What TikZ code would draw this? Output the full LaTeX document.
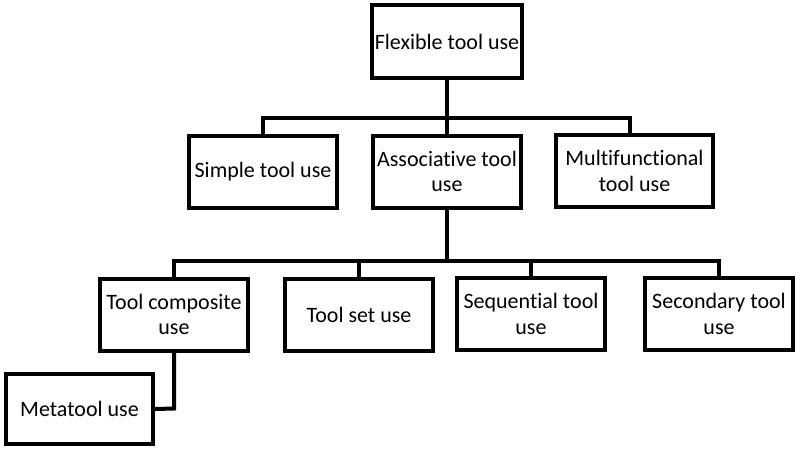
\documentclass[tikz,border=0pt]{standalone}
\usepackage{fontspec}
\setmainfont[Ligatures=NoCommon]{Carlito}
\begin{document}
\begin{tikzpicture}[x=0.75pt,y=-0.75pt,
  box/.style={draw=black,line width=3pt,fill=white,inner sep=0pt,
    minimum width=148*0.75pt,minimum height=72*0.75pt,align=center,
    font=\fontsize{16.5pt}{19pt}\selectfont},
  conn/.style={draw=black,line width=3pt}]
\useasboundingbox (0,0) rectangle (800,451);
\node[box,minimum width=150*0.75pt,minimum height=73*0.75pt] (flex) at (447,41.5) {Flexible tool use};
\node[box] (simple) at (263,171.5) {Simple tool use};
\node[box] (assoc) at (447,171.5) {Associative tool\\use};
\node[box,minimum width=157*0.75pt] (multi) at (634.5,171) {Multifunctional\\tool use};
\node[box] (comp) at (174,314.5) {Tool composite\\use};
\node[box] (set) at (359,314.5) {Tool set use};
\node[box] (seq) at (531,314) {Sequential tool\\use};
\node[box] (sec) at (719,314) {Secondary tool\\use};
\node[box,minimum width=147*0.75pt,minimum height=70*0.75pt] (meta) at (79.5,409) {Metatool use};
\coordinate (b1) at (447,118);
\coordinate (b2) at (447,261);
\coordinate (m1) at (630,118);
\coordinate (k1) at (174,408.5);
\draw[conn] (flex.south) -- (b1);
\draw[conn] (simple.north) |- (b1) -- (m1) -- (m1 |- multi.north);
\draw[conn] (b1) -- (assoc.north);
\draw[conn] (assoc.south) -- (b2);
\draw[conn] (comp.north) |- (b2) -| (sec.north);
\draw[conn] (set.north) -- (set.north |- b2);
\draw[conn] (seq.north) -- (seq.north |- b2);
\draw[conn] (comp.south) -- (k1) -- (meta.east);
\end{tikzpicture}
\end{document}
